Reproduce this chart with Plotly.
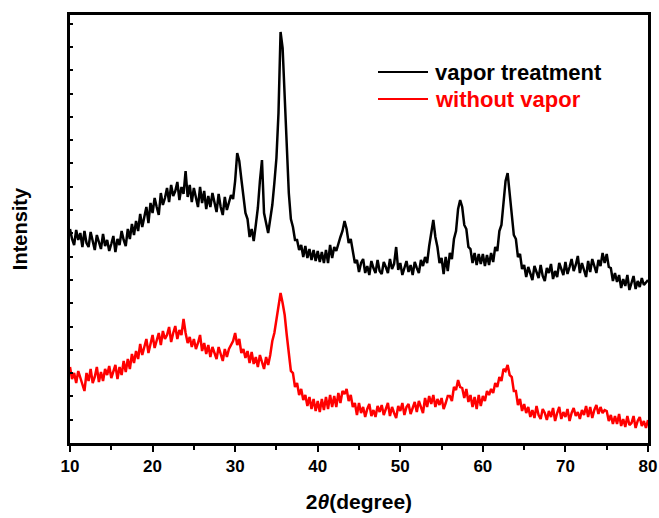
import plotly.graph_objects as go

# Scan grid (2theta, degrees)
SCAN_START = 10.0
SCAN_STEP = 0.25

# Intensity (a.u.), one row per degree: x.00, x.25, x.50, x.75
vapor_treatment = [
    214, 204, 198, 213,  # 10
    203, 210, 196, 212,  # 11
    200, 196, 211, 203,  # 12
    193, 208, 200, 194,  # 13
    209, 197, 203, 192,  # 14
    199, 207, 191, 204,  # 15
    198, 212, 203, 197,  # 16
    214, 204, 219, 208,  # 17
    222, 212, 229, 216,  # 18
    226, 236, 220, 240,  # 19
    230, 245, 236, 228,  # 20
    250, 238, 245, 255,  # 21
    241, 258, 247, 252,  # 22
    261, 243, 256, 249,  # 23
    272, 246, 258, 241,  # 24
    255, 244, 236, 256,  # 25
    240, 252, 234, 247,  # 26
    236, 250, 242, 231,  # 27
    249, 236, 228, 246,  # 28
    233, 242, 248, 244,  # 29
    262, 290, 282, 264,  # 30
    247, 230, 224, 206,  # 31
    214, 202, 218, 235,  # 32
    262, 283, 230, 220,  # 33
    210, 224, 238, 260,  # 34
    285, 330, 411, 395,  # 35
    343, 290, 250, 224,  # 36
    216, 203, 203, 193,  # 37
    198, 186, 197, 185,  # 38
    194, 183, 193, 182,  # 39
    192, 181, 191, 180,  # 40
    193, 180, 198, 185,  # 41
    196, 192, 200, 206,  # 42
    212, 222, 214, 200,  # 43
    204, 190, 180, 183,  # 44
    171, 180, 184, 170,  # 45
    177, 168, 182, 175,  # 46
    170, 183, 172, 169,  # 47
    181, 176, 170, 184,  # 48
    174, 179, 196, 173,  # 49
    180, 168, 176, 182,  # 50
    171, 178, 168, 181,  # 51
    175, 170, 183, 177,  # 52
    186, 180, 197, 208,  # 53
    223, 206, 196, 180,  # 54
    185, 169, 186, 172,  # 55
    190, 184, 204, 212,  # 56
    234, 243, 236, 218,  # 57
    214, 196, 194, 180,  # 58
    190, 178, 189, 179,  # 59
    189, 177, 188, 178,  # 60
    190, 181, 196, 192,  # 61
    212, 218, 238, 262,  # 62
    270, 248, 232, 208,  # 63
    204, 186, 189, 174,  # 64
    178, 166, 176, 169,  # 65
    163, 177, 170, 165,  # 66
    178, 167, 162, 175,  # 67
    170, 179, 164, 172,  # 68
    166, 180, 174, 168,  # 69
    181, 169, 176, 184,  # 70
    172, 178, 187, 170,  # 71
    180, 174, 166, 182,  # 72
    171, 184, 176, 170,  # 73
    183, 177, 190, 180,  # 74
    189, 176, 175, 162,  # 75
    170, 161, 168, 155,  # 76
    164, 157, 168, 153,  # 77
    160, 167, 154, 162,  # 78
    156, 165, 158, 161,  # 79
    163,                 # 80
]

without_vapor = [
    76, 64, 70, 60,      # 10
    72, 66, 58, 52,      # 11
    70, 62, 74, 60,      # 12
    66, 76, 61, 71,      # 13
    62, 74, 68, 77,      # 14
    65, 73, 78, 64,      # 15
    76, 68, 82, 71,      # 16
    84, 74, 89, 80,      # 17
    92, 84, 99, 88,      # 18
    96, 104, 90, 100,    # 19
    108, 95, 103, 110,   # 20
    98, 112, 104, 108,   # 21
    116, 101, 110, 117,  # 22
    104, 113, 108, 124,  # 23
    110, 100, 106, 96,   # 24
    104, 94, 100, 108,   # 25
    92, 100, 89, 98,     # 26
    86, 96, 90, 84,      # 27
    96, 88, 82, 94,      # 28
    86, 94, 98, 102,     # 29
    110, 98, 104, 90,    # 30
    94, 85, 92, 80,      # 31
    91, 79, 86, 76,      # 32
    88, 80, 74, 86,      # 33
    78, 88, 102, 110,    # 34
    124, 138, 150, 140,  # 35
    128, 108, 90, 72,    # 36
    70, 56, 60, 48,      # 37
    54, 43, 48, 37,      # 38
    46, 34, 44, 32,      # 39
    42, 31, 44, 33,      # 40
    46, 34, 48, 36,      # 41
    47, 36, 50, 40,      # 42
    52, 49, 54, 42,      # 43
    48, 36, 40, 28,      # 44
    40, 30, 36, 26,      # 45
    34, 39, 27, 33,      # 46
    26, 37, 31, 38,      # 47
    28, 35, 40, 27,      # 48
    36, 30, 25, 37,      # 49
    32, 40, 28, 36,      # 50
    39, 29, 35, 41,      # 51
    31, 42, 36, 30,      # 52
    45, 36, 47, 39,      # 53
    48, 36, 44, 38,      # 54
    45, 34, 40, 47,      # 55
    47, 42, 56, 53,      # 56
    63, 56, 55, 45,      # 57
    54, 41, 48, 36,      # 58
    46, 34, 48, 37,      # 59
    47, 42, 52, 48,      # 60
    54, 50, 60, 56,      # 61
    66, 62, 74, 72,      # 62
    78, 68, 66, 52,      # 63
    52, 38, 44, 32,      # 64
    39, 30, 36, 26,      # 65
    33, 25, 37, 28,      # 66
    24, 34, 30, 23,      # 67
    32, 26, 35, 22,      # 68
    30, 36, 24, 31,      # 69
    26, 34, 22, 30,      # 70
    35, 27, 31, 24,      # 71
    33, 28, 37, 26,      # 72
    36, 25, 33, 38,      # 73
    29, 36, 30, 33,      # 74
    32, 22, 28, 19,      # 75
    27, 19, 29, 17,      # 76
    24, 16, 27, 18,      # 77
    20, 27, 15, 22,      # 78
    26, 17, 22, 15,      # 79
    23,                  # 80
]

x_ticks = [10, 20, 30, 40, 50, 60, 70, 80]
series_names = ["vapor treatment", "without vapor"]
series_colors = ["#000000", "#ff0000"]

two_theta = [SCAN_START + SCAN_STEP * i for i in range(len(vapor_treatment))]

FONT = "Liberation Sans, Arial, sans-serif"
L, R, T, B = 70, 11, 15, 75
PW, PH = 659 - L - R, 518 - T - B


def px_to_paper(px, py):
    return (px - L) / PW, (518 - B - py) / PH


fig = go.Figure()
for name, ys, col in zip(series_names, [vapor_treatment, without_vapor], series_colors):
    fig.add_trace(go.Scatter(
        x=two_theta, y=ys, mode="lines", name=name,
        line=dict(color=col, width=2.5), showlegend=False,
    ))

# Legend drawn as sample lines + labels (positioned in paper space)
legend_rows_py = [72, 99]
for name, col, py in zip(series_names, series_colors, legend_rows_py):
    x0, yy = px_to_paper(378, py)
    x1, _ = px_to_paper(428, py)
    xt, _ = px_to_paper(433, py)
    fig.add_shape(type="line", xref="paper", yref="paper", x0=x0, x1=x1, y0=yy, y1=yy,
                  line=dict(color=col, width=2))
    fig.add_annotation(xref="paper", yref="paper", x=xt, y=yy, xanchor="left", yanchor="middle",
                       text=f"<b>{name}</b>", showarrow=False,
                       font=dict(family=FONT, size=22, color=col))

fig.update_layout(
    width=659, height=518,
    margin=dict(l=L, r=R, t=T, b=B, autoexpand=False),
    paper_bgcolor="white", plot_bgcolor="white",
    font=dict(family=FONT, color="black"),
    showlegend=False,
    xaxis=dict(
        range=[10, 80], tickvals=x_ticks, ticktext=[f"<b>{v}</b>" for v in x_ticks],
        ticks="outside", ticklen=6, tickwidth=2, tickcolor="black",
        minor=dict(dtick=5, tick0=5, ticks="outside", ticklen=4, tickwidth=2, tickcolor="black"),
        showline=True, linewidth=2.5, linecolor="black", mirror=True,
        showgrid=False, zeroline=False, automargin=False,
        tickfont=dict(family=FONT, size=17, color="black"),
        title=dict(text="<b>2<i>θ</i>(degree)</b>", font=dict(family=FONT, size=21), standoff=20),
    ),
    yaxis=dict(
        range=[0, 428], tick0=0, dtick=23.3,
        ticks="inside", ticklen=3, tickwidth=1.5, tickcolor="black",
        showticklabels=False,
        showline=True, linewidth=2.5, linecolor="black", mirror=True,
        showgrid=False, zeroline=False, automargin=False,
        title=dict(text="<b>Intensity</b>", font=dict(family=FONT, size=20), standoff=35),
    ),
)

fig.write_html("out.html")
